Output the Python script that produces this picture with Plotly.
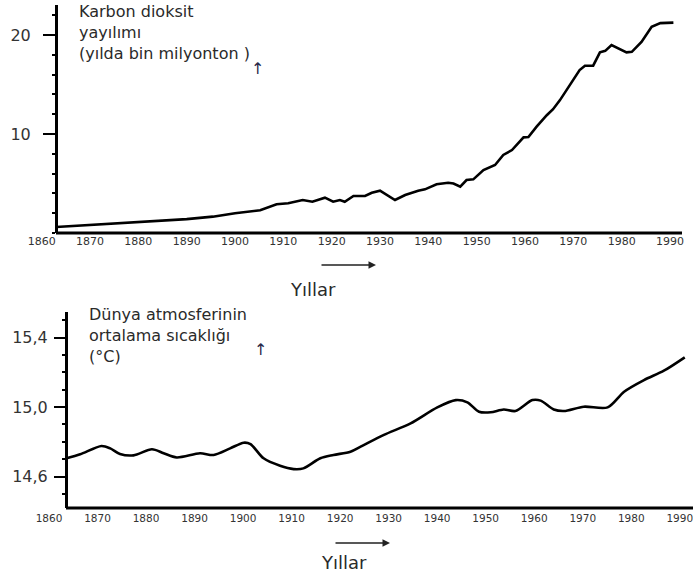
import plotly.graph_objects as go

W, H = 693, 579

# ---- data ----
co2_years = [1863, 1870, 1880, 1890, 1895.4, 1900, 1905.2, 1908.6, 1911, 1914, 1916, 1918.6,
             1920.3, 1921.7, 1922.7, 1924.5, 1926.9, 1928.3, 1930, 1933.1, 1935.2, 1937.9,
             1939.3, 1941.7, 1944.1, 1945.2, 1946.6, 1947.9, 1949.3, 1951.4, 1953.8, 1955.5,
             1957.3, 1959.7, 1960.7, 1962.4, 1964.5, 1965.8, 1967.2, 1969.3, 1971.3, 1972.4,
             1974.1, 1975.5, 1976.6, 1977.9, 1979.3, 1981, 1982.1, 1984.1, 1986.2, 1988, 1990.7]
co2_values = [0.6, 0.8, 1.08, 1.4, 1.65, 2.0, 2.3, 2.9, 3.0, 3.33, 3.16, 3.57,
              3.16, 3.33, 3.16, 3.74, 3.74, 4.07, 4.27, 3.33, 3.84, 4.27,
              4.41, 4.92, 5.08, 5.0, 4.68, 5.35, 5.42, 6.36, 6.87, 7.88,
              8.38, 9.66, 9.7, 10.74, 11.9, 12.5, 13.4, 14.95, 16.46, 16.9,
              16.9, 18.25, 18.4, 18.99, 18.65, 18.25, 18.3, 19.3, 20.84, 21.2, 21.25]

temp_years = [1862.8, 1865.6, 1870, 1871.8, 1873.8, 1876.6, 1880.4, 1882.8, 1885.5, 1890.3,
              1893.1, 1896.5, 1899.3, 1900.7, 1903.4, 1906.8, 1909.6, 1911.6, 1915.1, 1917.8,
              1921.3, 1923.4, 1928.2, 1933.7, 1939.2, 1943, 1945.4, 1947.8, 1950.2, 1952.9,
              1955.3, 1958.8, 1960.5, 1963.2, 1965.3, 1969.4, 1974.3, 1977.7, 1981.8, 1985.9, 1990.2]
temp_values = [14.705, 14.728, 14.776, 14.762, 14.73, 14.722, 14.757, 14.734, 14.71, 14.734,
               14.724, 14.762, 14.795, 14.787, 14.705, 14.662, 14.643, 14.647, 14.705, 14.724,
               14.743, 14.772, 14.84, 14.906, 14.998, 15.04, 15.027, 14.973, 14.97, 14.986,
               14.977, 15.04, 15.037, 14.986, 14.977, 15.002, 14.998, 15.088, 15.155, 15.209, 15.286]

year_ticks = list(range(1860, 2000, 10))
year_labels = [str(y) for y in year_ticks]
co2_ticks = [10, 20]
co2_labels = ["10", "20"]
temp_ticks = [14.6, 15.0, 15.4]
temp_labels = ["14,6", "15,0", "15,4"]

top_title = ["Karbon dioksit", "yayılımı", "(yılda bin milyonton )"]
bottom_title = ["Dünya atmosferinin", "ortalama sıcaklığı", "(°C)"]
x_title = "Yıllar"

# ---- helpers for pixel -> paper ----
def px(x):
    return x / W

def py(y):
    return 1 - y / H

FONT = "DejaVu Sans"
TXT = "#2a2a2a"

fig = go.Figure()
fig.add_trace(go.Scatter(x=co2_years, y=co2_values, mode="lines",
                         line=dict(color="black", width=2.6), xaxis="x", yaxis="y",
                         showlegend=False, hoverinfo="skip"))
fig.add_trace(go.Scatter(x=temp_years, y=temp_values, mode="lines",
                         line=dict(color="black", width=2.6, shape="spline", smoothing=0.8),
                         xaxis="x2", yaxis="y2", showlegend=False, hoverinfo="skip"))

common_x = dict(showline=False, showgrid=False, zeroline=False, ticks="",
                tickvals=year_ticks, ticktext=year_labels, ticklabeloverflow="allow",
                automargin=False)
common_y = dict(showline=True, linewidth=3, linecolor="black", showgrid=False, zeroline=False,
                ticks="outside", tickwidth=1.5, tickcolor="black",
                tickfont=dict(family=FONT, size=16, color="#333"), automargin=False)

fig.update_layout(
    width=W, height=H, autosize=False,
    margin=dict(l=0, r=0, t=0, b=0),
    paper_bgcolor="white", plot_bgcolor="white",
    xaxis=dict(domain=[px(41.7), px(682)], range=[1860, 1992.48], anchor="y",
               tickfont=dict(family=FONT, size=11, color="#333"), **common_x),
    yaxis=dict(domain=[py(233), py(5)], range=[0, 23.03], anchor="free", position=px(56),
               tickvals=co2_ticks, ticktext=co2_labels, ticklen=12, ticklabelstandoff=9,
               minor=dict(dtick=2, ticklen=3, tickcolor="black", ticks="outside"),
               **common_y),
    xaxis2=dict(domain=[px(53), 1.0], range=[1860, 1991.9], anchor="y2",
                ticklabelstandoff=2, ticklabelshift=-4,
                tickfont=dict(family=FONT, size=10.5, color="#333"), **common_x),
    yaxis2=dict(domain=[py(508), py(312)], range=[14.419, 15.547], anchor="free", position=px(66),
                tickvals=temp_ticks, ticktext=temp_labels, ticklen=11, ticklabelstandoff=3,
                minor=dict(dtick=0.1, ticklen=3, tickcolor="black", ticks="outside"),
                **common_y),
)

# x-axis base lines (start at the y-axis)
fig.add_shape(type="line", xref="paper", yref="y domain", x0=px(56), x1=px(682), y0=0, y1=0,
              line=dict(color="black", width=3))
fig.add_shape(type="line", xref="paper", yref="y2 domain", x0=px(66), x1=1.0, y0=0, y1=0,
              line=dict(color="black", width=3))

ann = []
ann.append(dict(x=px(77), y=py(32.5), xref="paper", yref="paper", text="<br>".join(top_title),
                showarrow=False, xanchor="left", yanchor="middle", align="left",
                font=dict(family=FONT, size=16, color=TXT)))
ann.append(dict(x=px(87), y=py(335), xref="paper", yref="paper", text="<br>".join(bottom_title),
                showarrow=False, xanchor="left", yanchor="middle", align="left",
                font=dict(family=FONT, size=16, color=TXT)))
# up arrows
ann.append(dict(x=px(257), y=py(69), xref="paper", yref="paper", text="↑", showarrow=False,
                xanchor="center", yanchor="middle",
                font=dict(family=FONT, size=16, color="#2a2a4a")))
ann.append(dict(x=px(260), y=py(349), xref="paper", yref="paper", text="↑", showarrow=False,
                xanchor="center", yanchor="middle",
                font=dict(family=FONT, size=16, color="#2a2a4a")))
# right arrows
ann.append(dict(x=px(376), y=py(265), xref="paper", yref="paper", text="", showarrow=True,
                ax=-56, ay=0, arrowhead=2, arrowsize=1, arrowwidth=1.5, arrowcolor="#222"))
ann.append(dict(x=px(390), y=py(543), xref="paper", yref="paper", text="", showarrow=True,
                ax=-56, ay=0, arrowhead=2, arrowsize=1, arrowwidth=1.5, arrowcolor="#222"))
# axis titles
ann.append(dict(x=px(313), y=py(289), xref="paper", yref="paper", text=x_title, showarrow=False,
                xanchor="center", yanchor="middle",
                font=dict(family=FONT, size=18, color=TXT)))
ann.append(dict(x=px(344), y=py(562), xref="paper", yref="paper", text=x_title, showarrow=False,
                xanchor="center", yanchor="middle",
                font=dict(family=FONT, size=18, color=TXT)))
fig.update_layout(annotations=ann)

fig.write_html("out.html", config={"displayModeBar": False},
               post_script="document.body.style.margin='0';document.body.style.overflow='hidden';")
